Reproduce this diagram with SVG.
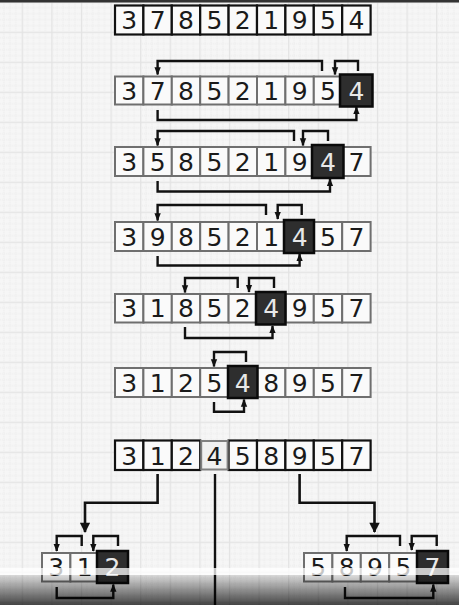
<svg xmlns="http://www.w3.org/2000/svg" width="459" height="605" viewBox="0 0 459 605">
<defs>
<pattern id="grid" patternUnits="userSpaceOnUse" x="21.7" y="1.7" width="29.6" height="30">
<rect width="29.6" height="30" fill="#f6f6f6"/>
<g stroke="#ebebeb" stroke-width="1" stroke-dasharray="1 1">
<line x1="5.9" y1="0" x2="5.9" y2="30"/><line x1="11.8" y1="0" x2="11.8" y2="30"/><line x1="17.8" y1="0" x2="17.8" y2="30"/><line x1="23.7" y1="0" x2="23.7" y2="30"/>
<line x1="0" y1="6" x2="29.6" y2="6"/><line x1="0" y1="12" x2="29.6" y2="12"/><line x1="0" y1="18" x2="29.6" y2="18"/><line x1="0" y1="24" x2="29.6" y2="24"/>
</g>
<line x1="0.5" y1="0" x2="0.5" y2="30" stroke="#e3e3e3" stroke-width="1.5"/>
<line x1="0" y1="0.5" x2="29.6" y2="0.5" stroke="#e3e3e3" stroke-width="1.5"/>
</pattern>
<marker id="ah" viewBox="0 0 10 10" refX="9" refY="5" markerWidth="3.3" markerHeight="3.3" orient="auto" markerUnits="strokeWidth">
<path d="M0,1 L10,5 L0,9 z" fill="#111"/>
</marker>
<marker id="ahb" viewBox="0 0 10 10" refX="9" refY="5" markerWidth="4.5" markerHeight="4" orient="auto" markerUnits="strokeWidth">
<path d="M0,0 L10,5 L0,10 z" fill="#111"/>
</marker>
<linearGradient id="shade" x1="0" y1="0" x2="0" y2="1">
<stop offset="0" stop-color="#000" stop-opacity="0.12"/>
<stop offset="1" stop-color="#000" stop-opacity="0.72"/>
</linearGradient>
</defs>
<style>
.c{fill:#fafafa;stroke:#6f6f6f;stroke-width:2}
.k{fill:#fafafa;stroke:#111;stroke-width:2.2}
.g{fill:#f0f0f0;stroke:#808080;stroke-width:2}
.d{fill:#2e2e2e;stroke:#0a0a0a;stroke-width:2.5}
text{font-family:"DejaVu Sans","Liberation Sans",sans-serif;font-size:25px;text-anchor:middle;fill:#1a1a1a}
text.w{fill:#e8e8e8}
.ln{fill:none;stroke:#111;stroke-width:2.4}
.lnA{fill:none;stroke:#111;stroke-width:2.4;marker-end:url(#ah)}
.lnB{fill:none;stroke:#111;stroke-width:2.6;marker-end:url(#ahb)}
</style>
<rect width="459" height="605" fill="url(#grid)"/>
<rect width="459" height="2.5" fill="#333"/>

<g id="row1">
<rect class="k" x="115" y="5.5" width="28.4" height="29"/><rect class="k" x="143.4" y="5.5" width="28.4" height="29"/><rect class="k" x="171.8" y="5.5" width="28.4" height="29"/><rect class="k" x="200.2" y="5.5" width="28.4" height="29"/><rect class="k" x="228.6" y="5.5" width="28.4" height="29"/><rect class="k" x="257" y="5.5" width="28.4" height="29"/><rect class="k" x="285.4" y="5.5" width="28.4" height="29"/><rect class="k" x="313.8" y="5.5" width="28.4" height="29"/><rect class="k" x="342.2" y="5.5" width="28.4" height="29"/>
<text x="129.2" y="29">3</text><text x="157.6" y="29">7</text><text x="186" y="29">8</text><text x="214.4" y="29">5</text><text x="242.8" y="29">2</text><text x="271.2" y="29">1</text><text x="299.6" y="29">9</text><text x="328" y="29">5</text><text x="356.4" y="29">4</text>
</g>

<g id="row2">
<rect class="c" x="115" y="76.5" width="28.4" height="28"/><rect class="c" x="143.4" y="76.5" width="28.4" height="28"/><rect class="c" x="171.8" y="76.5" width="28.4" height="28"/><rect class="c" x="200.2" y="76.5" width="28.4" height="28"/><rect class="c" x="228.6" y="76.5" width="28.4" height="28"/><rect class="c" x="257" y="76.5" width="28.4" height="28"/><rect class="c" x="285.4" y="76.5" width="28.4" height="28"/><rect class="c" x="313.8" y="76.5" width="28.4" height="28"/>
<rect class="d" x="340" y="74.5" width="32.5" height="32"/>
<text x="129.2" y="99.5">3</text><text x="157.6" y="99.5">7</text><text x="186" y="99.5">8</text><text x="214.4" y="99.5">5</text><text x="242.8" y="99.5">2</text><text x="271.2" y="99.5">1</text><text x="299.6" y="99.5">9</text><text x="328" y="99.5">5</text><text class="w" x="356.4" y="99.5">4</text>
</g>

<g id="row3">
<rect class="c" x="115" y="147" width="28.4" height="29"/><rect class="c" x="143.4" y="147" width="28.4" height="29"/><rect class="c" x="171.8" y="147" width="28.4" height="29"/><rect class="c" x="200.2" y="147" width="28.4" height="29"/><rect class="c" x="228.6" y="147" width="28.4" height="29"/><rect class="c" x="257" y="147" width="28.4" height="29"/><rect class="c" x="285.4" y="147" width="28.4" height="29"/><rect class="c" x="342.2" y="147" width="28.4" height="29"/>
<rect class="d" x="312" y="145" width="31.5" height="33"/>
<text x="129.2" y="170.5">3</text><text x="157.6" y="170.5">5</text><text x="186" y="170.5">8</text><text x="214.4" y="170.5">5</text><text x="242.8" y="170.5">2</text><text x="271.2" y="170.5">1</text><text x="299.6" y="170.5">9</text><text class="w" x="328" y="170.5">4</text><text x="356.4" y="170.5">7</text>
</g>

<g id="row4">
<rect class="c" x="115" y="222" width="28.4" height="29"/><rect class="c" x="143.4" y="222" width="28.4" height="29"/><rect class="c" x="171.8" y="222" width="28.4" height="29"/><rect class="c" x="200.2" y="222" width="28.4" height="29"/><rect class="c" x="228.6" y="222" width="28.4" height="29"/><rect class="c" x="257" y="222" width="28.4" height="29"/><rect class="c" x="313.8" y="222" width="28.4" height="29"/><rect class="c" x="342.2" y="222" width="28.4" height="29"/>
<rect class="d" x="284" y="220" width="30" height="33"/>
<text x="129.2" y="245.5">3</text><text x="157.6" y="245.5">9</text><text x="186" y="245.5">8</text><text x="214.4" y="245.5">5</text><text x="242.8" y="245.5">2</text><text x="271.2" y="245.5">1</text><text class="w" x="299.6" y="245.5">4</text><text x="328" y="245.5">5</text><text x="356.4" y="245.5">7</text>
</g>

<g id="row5">
<rect class="c" x="115" y="294" width="28.4" height="28.5"/><rect class="c" x="143.4" y="294" width="28.4" height="28.5"/><rect class="c" x="171.8" y="294" width="28.4" height="28.5"/><rect class="c" x="200.2" y="294" width="28.4" height="28.5"/><rect class="c" x="228.6" y="294" width="28.4" height="28.5"/><rect class="c" x="285.4" y="294" width="28.4" height="28.5"/><rect class="c" x="313.8" y="294" width="28.4" height="28.5"/><rect class="c" x="342.2" y="294" width="28.4" height="28.5"/>
<rect class="d" x="256" y="292" width="29.5" height="32.5"/>
<text x="129.2" y="317">3</text><text x="157.6" y="317">1</text><text x="186" y="317">8</text><text x="214.4" y="317">5</text><text x="242.8" y="317">2</text><text class="w" x="271.2" y="317">4</text><text x="299.6" y="317">9</text><text x="328" y="317">5</text><text x="356.4" y="317">7</text>
</g>

<g id="row6">
<rect class="c" x="115" y="368" width="28.4" height="29"/><rect class="c" x="143.4" y="368" width="28.4" height="29"/><rect class="c" x="171.8" y="368" width="28.4" height="29"/><rect class="c" x="200.2" y="368" width="28.4" height="29"/><rect class="c" x="257" y="368" width="28.4" height="29"/><rect class="c" x="285.4" y="368" width="28.4" height="29"/><rect class="c" x="313.8" y="368" width="28.4" height="29"/><rect class="c" x="342.2" y="368" width="28.4" height="29"/>
<rect class="d" x="228" y="366" width="29.5" height="32"/>
<text x="129.2" y="391.5">3</text><text x="157.6" y="391.5">1</text><text x="186" y="391.5">2</text><text x="214.4" y="391.5">5</text><text class="w" x="242.8" y="391.5">4</text><text x="271.2" y="391.5">8</text><text x="299.6" y="391.5">9</text><text x="328" y="391.5">5</text><text x="356.4" y="391.5">7</text>
</g>

<g id="row7">
<rect class="k" x="115" y="440.5" width="28.4" height="29.5"/><rect class="k" x="143.4" y="440.5" width="28.4" height="29.5"/><rect class="k" x="171.8" y="440.5" width="28.4" height="29.5"/><rect class="k" x="228.6" y="440.5" width="28.4" height="29.5"/><rect class="k" x="257" y="440.5" width="28.4" height="29.5"/><rect class="k" x="285.4" y="440.5" width="28.4" height="29.5"/><rect class="k" x="313.8" y="440.5" width="28.4" height="29.5"/><rect class="k" x="342.2" y="440.5" width="28.4" height="29.5"/>
<rect class="g" x="201.2" y="441" width="26.4" height="28.5"/>
<text x="129.2" y="464.5">3</text><text x="157.6" y="464.5">1</text><text x="186" y="464.5">2</text><text x="214.4" y="464.5">4</text><text x="242.8" y="464.5">5</text><text x="271.2" y="464.5">8</text><text x="299.6" y="464.5">9</text><text x="328" y="464.5">5</text><text x="356.4" y="464.5">7</text>
</g>

<g id="left-part">
<rect class="c" x="42" y="553" width="28.4" height="28.5"/><rect class="c" x="70.4" y="553" width="28.4" height="28.5"/>
<rect class="d" x="97" y="551" width="31" height="32"/>
<text x="56.2" y="576">3</text><text x="84.6" y="576">1</text><text class="w" x="112.5" y="576">2</text>
</g>

<g id="right-part">
<rect class="c" x="304" y="553" width="28.4" height="28.5"/><rect class="c" x="332.4" y="553" width="28.4" height="28.5"/><rect class="c" x="360.8" y="553" width="28.4" height="28.5"/><rect class="c" x="389.2" y="553" width="28.4" height="28.5"/>
<rect class="d" x="417" y="551" width="31" height="32"/>
<text x="318.2" y="576">5</text><text x="346.6" y="576">8</text><text x="375" y="576">9</text><text x="403.4" y="576">5</text><text class="w" x="432.5" y="576">7</text>
</g>

<g id="connectors">
<path class="lnA" d="M322,71 V61 H157.6 V74.5"/>
<path class="lnA" d="M358,71 V61 H335 V74.5"/>
<path class="lnA" d="M157.6,110 V120 H356.4 V107"/>

<path class="lnA" d="M294,141 V131 H157.6 V145.5"/>
<path class="lnA" d="M328,141 V131 H303 V145.5"/>
<path class="lnA" d="M157.6,181 V191.5 H330 V179"/>

<path class="lnA" d="M266,215 V205 H157.6 V220.5"/>
<path class="lnA" d="M301.7,215 V205 H277.7 V219"/>
<path class="lnA" d="M157.6,256 V265.5 H299.6 V254"/>

<path class="lnA" d="M237.7,288 V278 H185 V292.5"/>
<path class="lnA" d="M274,288 V278 H249 V292"/>
<path class="lnA" d="M185,327 V338 H272.5 V326"/>

<path class="lnA" d="M246,362 V352 H214 V366.5"/>
<path class="lnA" d="M214,402 V411.7 H244 V399.5"/>

<path class="ln" d="M215,474 V605"/>
<path class="lnB" d="M157.6,474 V502.7 H85 V532"/>
<path class="lnB" d="M299.6,474 V502.7 H374.5 V532"/>

<path class="lnA" d="M81.7,546 V536 H56.7 V551"/>
<path class="lnA" d="M118,546 V536 H93.3 V551"/>
<path class="lnA" d="M56.7,587 V598 H113.3 V584.5"/>

<path class="lnA" d="M400,546 V536 H346.7 V551"/>
<path class="lnA" d="M436.7,546 V536 H411.7 V550"/>
<path class="lnA" d="M345,587 V598 H433.3 V584.5"/>
</g>

<rect x="0" y="568" width="459" height="7" fill="#fff" fill-opacity="0.75"/>
<rect x="0" y="575" width="459" height="30" fill="url(#shade)"/>
</svg>
